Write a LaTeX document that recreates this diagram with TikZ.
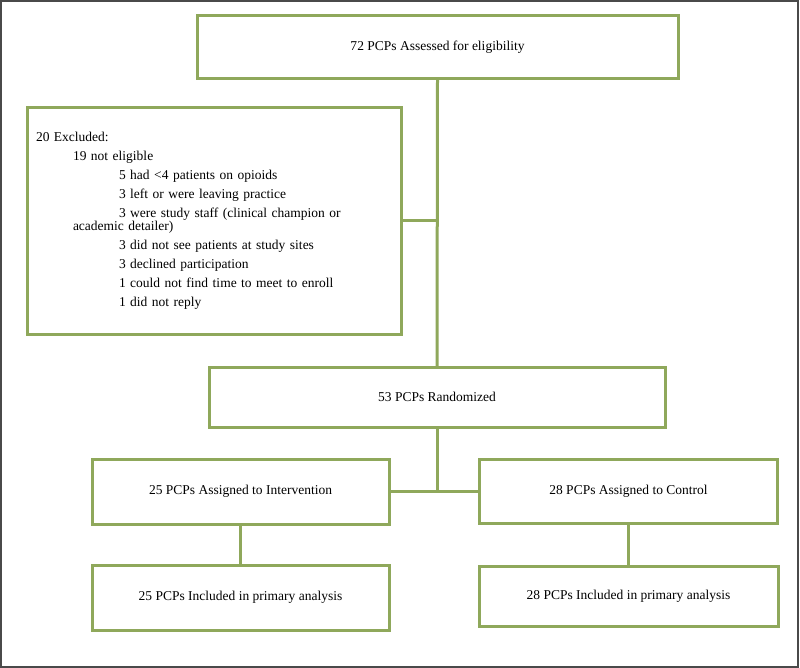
\documentclass[tikz,border=0pt]{standalone}
\usepackage{fontspec}
\setmainfont{Liberation Serif}
\usetikzlibrary{positioning}
\definecolor{boxGreen}{HTML}{8FA85B}
\definecolor{frameGray}{HTML}{4A4A4A}
\tikzset{
  flow box/.style={
    draw=boxGreen,
    fill=white,
    line width=3pt,
    outer sep=0pt,
    inner sep=4pt,
    align=center,
    font=\fontsize{13.5}{13.5}\selectfont
  },
  excluded box/.style={
    flow box,
    align=left,
    inner xsep=9pt,
    inner ysep=4pt,
    text width=356pt,
    minimum height=226pt
  },
  link edge/.style={
    draw=boxGreen,
    line width=3pt
  },
  page frame/.style={
    draw=frameGray,
    line width=2pt
  }
}

\begin{document}
\begin{tikzpicture}[x=1pt,y=-1pt]
  \useasboundingbox (0,0) rectangle (800,668);
  \draw[page frame] (1,1) rectangle (798,666.5);

  \node[flow box,minimum width=481pt,minimum height=63pt] (assess) at (437.5,47.5)
    {72 PCPs Assessed for eligibility};

  \node[excluded box] (excl) at (214,221) {%
    20 Excluded:\\[5.5pt]
    \hspace*{37pt}19 not eligible\\[5.5pt]
    \hspace*{83pt}5 had <4 patients on opioids\\[5.5pt]
    \hspace*{83pt}3 left or were leaving practice\\[5.5pt]
    \hspace*{83pt}3 were study staff (clinical champion or\\
    \hspace*{37pt}academic detailer)\\[5.5pt]
    \hspace*{83pt}3 did not see patients at study sites\\[5.5pt]
    \hspace*{83pt}3 declined participation\\[5.5pt]
    \hspace*{83pt}1 could not find time to meet to enroll\\[5.5pt]
    \hspace*{83pt}1 did not reply
  };

  \node[flow box,minimum width=456pt,minimum height=60pt] (rand) at (437,397)
    {53 PCPs Randomized};

  \node[flow box,minimum width=297pt,minimum height=65pt] (interv) at (240.5,491.5)
    {25 PCPs Assigned to Intervention};
  \node[flow box,minimum width=298pt,minimum height=64pt] (ctrl) at (628.5,491.5)
    {28 PCPs Assigned to Control};

  \node[flow box,minimum width=297pt,minimum height=65pt] (anaI) at (240.5,597.5)
    {25 PCPs Included in primary analysis};
  \node[flow box,minimum width=299pt,minimum height=60pt] (anaC) at (628.5,596)
    {28 PCPs Included in primary analysis};

  \draw[link edge] (assess.south) -- (rand.north);
  \draw[link edge] (excl.east) -- (excl.east -| assess.south);
  \draw[link edge] (rand.south) -- (rand.south |- interv.east);
  \draw[link edge] (interv.east) -- (ctrl.west);
  \draw[link edge] (interv.south) -- (anaI.north);
  \draw[link edge] (ctrl.south) -- (anaC.north);
\end{tikzpicture}
\end{document}
